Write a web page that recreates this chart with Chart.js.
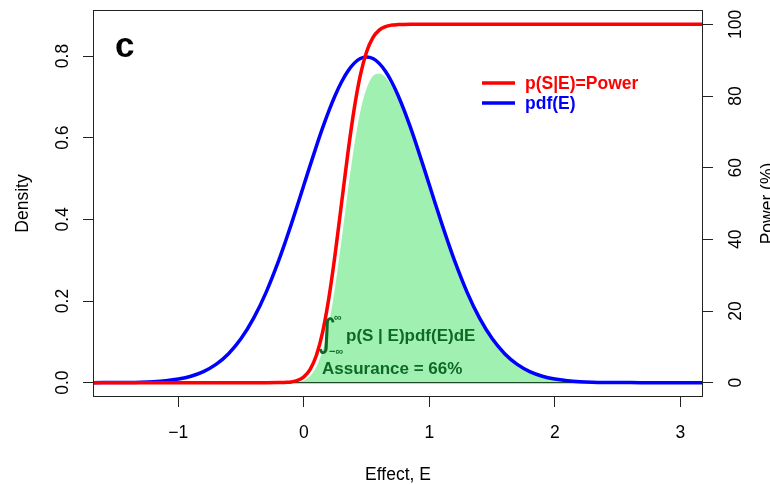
<!DOCTYPE html>
<html>
<head>
<meta charset="utf-8">
<script src="https://cdn.jsdelivr.net/npm/chart.js@4.4.1/dist/chart.umd.min.js"></script>
<style>
  html, body { margin: 0; padding: 0; background: #fff; }
  #wrap { width: 770px; height: 484px; position: relative; }
</style>
</head>
<body>
<div id="wrap"><canvas id="c" width="770" height="484"></canvas></div>
<script>
// ---- data ----
const effectE = [-1.7,-1.6,-1.5,-1.4,-1.3,-1.2,-1.1,-1.0,-0.9,-0.8,-0.7,-0.6,-0.5,-0.4,-0.3,
  -0.2,-0.15,-0.1,-0.05,0,0.05,0.1,0.15,0.2,0.25,0.3,0.35,0.4,0.45,0.5,0.55,0.6,0.65,0.7,0.75,0.8,0.85,0.9,0.95,1.0,1.05,1.1,1.15,1.2,
  1.3,1.4,1.5,1.6,1.7,1.8,1.9,2.0,2.1,2.2,2.3,2.4,2.5,2.6,2.7,2.8,2.9,3.0,3.1,3.2];
const pdfE = [0.00005,0.00012,0.00027,0.00058,0.00122,0.00246,0.00477,0.00886,0.01583,0.02717,0.04479,0.07095,0.10798,0.1579,0.22184,
  0.29946,0.3428,0.38837,0.4357,0.48394,0.5322,0.57938,0.6245,0.66644,0.7041,0.73654,0.7628,0.78208,0.7939,0.79788,0.7939,0.78208,0.7628,0.73654,0.7041,0.66644,0.6245,0.57938,0.5322,0.48394,0.4357,0.38837,0.3428,0.29946,
  0.22184,0.1579,0.10798,0.07095,0.04479,0.02717,0.01583,0.00886,0.00477,0.00246,0.00122,0.00058,0.00027,0.00012,0.00005,0.00002,0.00001,0,0,0];
const powerPct = [0,0,0,0,0,0,0,0,0,0,0,0,0,0,0,
  0.02,0.07,0.21,0.62,1.61,3.71,7.65,14.2,23.8,36.1,50,63.9,76.2,85.8,92.35,96.29,98.39,99.38,99.79,99.93,99.98,100,100,100,100,100,100,100,100,
  100,100,100,100,100,100,100,100,100,100,100,100,100,100,100,100,100,100,100,100];
const assuranceArea = [0,0,0,0,0,0,0,0,0,0,0,0,0,0,0,
  0.0001,0.0002,0.0008,0.0027,0.0078,0.0197,0.0443,0.0887,0.1586,0.2542,0.3683,0.4874,0.594,0.676,0.728,0.755,0.760,0.752,0.731,0.701,0.665,0.6245,0.5794,0.5322,0.4839,0.4357,0.3884,0.3428,0.2995,
  0.2218,0.1579,0.108,0.071,0.0448,0.0272,0.0158,0.0089,0.0048,0.0025,0.0012,0.0006,0.0003,0.0001,0,0,0,0,0,0];
const xTicks = [-1,0,1,2,3];
const xTickLabels = ['\u22121','0','1','2','3'];
const densityTicks = [0,0.2,0.4,0.6,0.8];
const densityTickLabels = ['0.0','0.2','0.4','0.6','0.8'];
const powerTicks = [0,20,40,60,80,100];
const powerTickLabels = ['0','20','40','60','80','100'];
const legendLabels = ['p(S|E)=Power','pdf(E)'];

const pts = (ys) => effectE.map((x, i) => ({ x: x, y: ys[i] }));
const baseLine = [{ x: effectE[0], y: 0 }, { x: effectE[effectE.length - 1], y: 0 }];

const FONT = '"Liberation Sans", Arial, Helvetica, sans-serif';
const RED = '#ff0000', BLUE = '#0000ff', GREEN_FILL = '#a0f0b2', DARK_GREEN = '#0d6a24';

const textPlugin = {
  id: 'rtext',
  afterDraw(chart) {
    const ctx = chart.ctx, a = chart.chartArea;
    const xs = chart.scales.x, ys = chart.scales.y, y2 = chart.scales.y2;
    ctx.save();
    // box
    ctx.strokeStyle = '#222'; ctx.lineWidth = 1;
    ctx.strokeRect(a.left + 0.5, a.top + 0.5, a.right - a.left - 1, a.bottom - a.top - 1);
    ctx.fillStyle = '#000';
    ctx.font = '17.5px ' + FONT;
    ctx.textAlign = 'center'; ctx.textBaseline = 'alphabetic';
    xTicks.forEach((v, i) => ctx.fillText(xTickLabels[i], xs.getPixelForValue(v), 438));
    const rot = (txt, x, y) => { ctx.save(); ctx.translate(x, y); ctx.rotate(-Math.PI / 2); ctx.fillText(txt, 0, 0); ctx.restore(); };
    densityTicks.forEach((v, i) => rot(densityTickLabels[i], 68, ys.getPixelForValue(v)));
    powerTicks.forEach((v, i) => rot(powerTickLabels[i], 741, y2.getPixelForValue(v)));
    const midY = (a.top + a.bottom) / 2;
    ctx.fillText('Effect, E', (a.left + a.right) / 2, 480);
    rot('Density', 28, midY);
    rot('Power (%)', 773, midY);
    // panel letter
    ctx.textAlign = 'left';
    ctx.font = 'bold 35px ' + FONT;
    ctx.fillText('c', 115, 57);
    // legend
    ctx.lineWidth = 3.5; ctx.lineCap = 'butt';
    [[RED, 83], [BLUE, 103]].forEach(([c, y], i) => {
      ctx.strokeStyle = c; ctx.beginPath(); ctx.moveTo(482, y); ctx.lineTo(515, y); ctx.stroke();
      ctx.fillStyle = c; ctx.font = 'bold 17.5px ' + FONT;
      ctx.fillText(legendLabels[i], 525, y + 6);
    });
    // annotation
    ctx.fillStyle = DARK_GREEN;
    ctx.font = '38px "DejaVu Sans", sans-serif';
    ctx.textBaseline = 'middle';
    ctx.fillText('\u222B', 317, 336);
    ctx.font = 'bold 11px ' + FONT;
    ctx.fillText('\u221E', 334, 318);
    ctx.fillText('\u2212\u221E', 329, 352);
    ctx.textBaseline = 'alphabetic';
    ctx.font = 'bold 17px ' + FONT;
    ctx.fillText('p(S | E)pdf(E)dE', 346, 341);
    ctx.fillText('Assurance = 66%', 322, 374);
    ctx.restore();
  }
};

const fitW = (w) => (s) => { s.width = w; };
const tickGrid = { drawOnChartArea: false, drawTicks: true, tickLength: 10, color: '#222', lineWidth: 1 };

new Chart(document.getElementById('c'), {
  type: 'line',
  data: {
    datasets: [
      { label: 'p(S|E)=Power', data: pts(powerPct), yAxisID: 'y2', borderColor: RED, borderWidth: 3.5,
        pointRadius: 0, cubicInterpolationMode: 'monotone', fill: false, clip: 0, order: 0 },
      { label: 'pdf(E)', data: pts(pdfE), yAxisID: 'y', borderColor: BLUE, borderWidth: 3.5,
        pointRadius: 0, cubicInterpolationMode: 'monotone', fill: false, clip: 0, order: 1 },
      { label: 'base', data: baseLine, yAxisID: 'y', borderColor: '#1f4a2a', borderWidth: 1.2,
        pointRadius: 0, fill: false, clip: 0, order: 2 },
      { label: 'assurance', data: pts(assuranceArea), yAxisID: 'y', borderColor: '#ffffff', borderWidth: 2,
        backgroundColor: GREEN_FILL, pointRadius: 0, cubicInterpolationMode: 'monotone', fill: 'origin', clip: 0, order: 3 }
    ]
  },
  options: {
    responsive: false, animation: false, events: [],
    layout: { padding: { top: 10, left: 0, right: 0, bottom: 0 } },
    plugins: { legend: { display: false }, tooltip: { enabled: false } },
    scales: {
      x: { type: 'linear', min: -1.68, max: 3.18,
        afterBuildTicks: (s) => { s.ticks = xTicks.map(v => ({ value: v })); },
        ticks: { display: false }, grid: tickGrid, border: { display: false },
        afterFit: (s) => { s.height = 87; } },
      y: { position: 'left', min: -0.0351, max: 0.9128,
        afterBuildTicks: (s) => { s.ticks = densityTicks.map(v => ({ value: v })); },
        ticks: { display: false }, grid: tickGrid, border: { display: false }, afterFit: fitW(93) },
      y2: { position: 'right', min: -4, max: 104,
        afterBuildTicks: (s) => { s.ticks = powerTicks.map(v => ({ value: v })); },
        ticks: { display: false }, grid: tickGrid, border: { display: false }, afterFit: fitW(67) }
    }
  },
  plugins: [textPlugin]
});
</script>
</body>
</html>
